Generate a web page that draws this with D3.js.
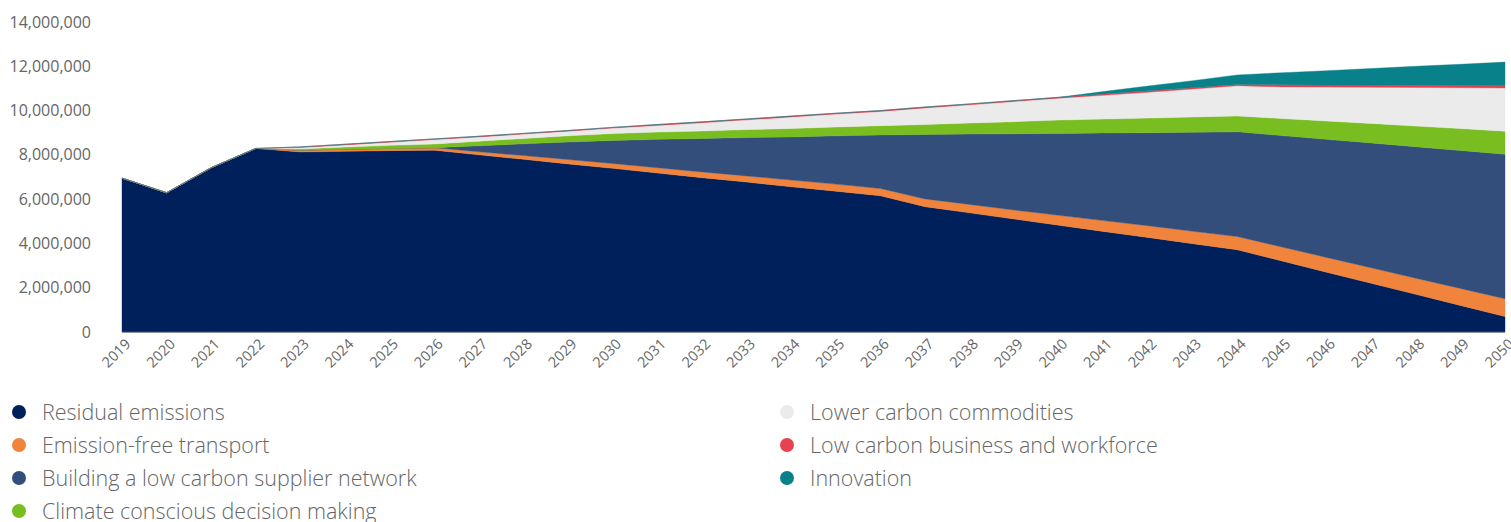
<!DOCTYPE html>
<html>
<head>
<meta charset="utf-8">
<script src="https://cdn.jsdelivr.net/npm/d3@7"></script>
<style>
  html, body { margin: 0; padding: 0; background: #fff; }
  svg { display: block; font-family: "Open Sans", sans-serif; }
</style>
</head>
<body>
<svg id="chart" width="1511" height="522"></svg>
<script>
// Emissions pathway, tonnes CO2e per year, stacked from the bottom up
const years = d3.range(2019, 2051);

const residual = [
  6950000, 6290000, 7420000, 8290000, 8130000, 8160000, 8190000, 8210000,
  8000000, 7800000, 7590000, 7390000, 7180000, 6970000, 6770000, 6560000,
  6360000, 6150000, 5660000, 5380000, 5100000, 4820000, 4540000, 4270000,
  3990000, 3710000, 3210000, 2700000, 2200000, 1700000, 1200000, 700000
];
const transport = [
  0, 0, 0, 0, 80000, 90000, 100000, 110000,
  140000, 170000, 200000, 220000, 240000, 260000, 280000, 300000,
  320000, 330000, 350000, 380000, 410000, 450000, 490000, 530000,
  560000, 600000, 630000, 670000, 700000, 730000, 770000, 800000
];
const supplier = [
  0, 0, 0, 0, 0, 0, 0, 0,
  270000, 530000, 790000, 1040000, 1280000, 1510000, 1730000, 1950000,
  2180000, 2420000, 2910000, 3180000, 3440000, 3700000, 3960000, 4200000,
  4470000, 4730000, 5030000, 5330000, 5640000, 5940000, 6230000, 6530000
];
const decisions = [
  0, 0, 0, 0, 60000, 100000, 140000, 170000,
  210000, 240000, 280000, 310000, 330000, 340000, 360000, 380000,
  400000, 420000, 450000, 500000, 550000, 600000, 630000, 660000,
  690000, 720000, 770000, 830000, 880000, 930000, 990000, 1040000
];
const commodities = [
  0, 0, 0, 0, 60000, 100000, 140000, 200000,
  190000, 200000, 210000, 250000, 300000, 370000, 440000, 520000,
  580000, 640000, 750000, 820000, 910000, 990000, 1070000, 1170000,
  1260000, 1360000, 1430000, 1530000, 1630000, 1740000, 1840000, 1950000
];
const workforce = [
  0, 0, 0, 0, 30000, 30000, 30000, 30000,
  30000, 30000, 30000, 30000, 40000, 40000, 40000, 40000,
  40000, 40000, 40000, 40000, 40000, 40000, 60000, 60000,
  60000, 60000, 100000, 100000, 100000, 100000, 100000, 100000
];
const innovation = [
  0, 0, 0, 0, 0, 0, 0, 0,
  0, 0, 0, 0, 0, 0, 0, 0,
  0, 0, 0, 0, 0, 0, 110000, 220000,
  320000, 430000, 540000, 640000, 750000, 860000, 960000, 1070000
];

const seriesNames = [
  "Residual emissions",
  "Emission-free transport",
  "Building a low carbon supplier network",
  "Climate conscious decision making",
  "Lower carbon commodities",
  "Low carbon business and workforce",
  "Innovation"
];
const seriesValues = [residual, transport, supplier, decisions, commodities, workforce, innovation];
const seriesColors = ["#00205b", "#f0843c", "#344e7b", "#78be20", "#ebebeb", "#e8414f", "#08818a"];

const yTicks = [0, 2000000, 4000000, 6000000, 8000000, 10000000, 12000000, 14000000];

// Row table for d3.stack
const keys = seriesNames;
const rows = years.map((yr, i) => {
  const r = { year: yr };
  keys.forEach((k, j) => { r[k] = seriesValues[j][i]; });
  return r;
});

const svg = d3.select("#chart");
const plotLeft = 122, plotRight = 1505, plotTop = 22, plotBottom = 332;

const x = d3.scaleLinear().domain([2019, 2050]).range([plotLeft, plotRight]);
const y = d3.scaleLinear().domain([0, 14000000]).range([plotBottom, plotTop]);

const stacked = d3.stack().keys(keys)(rows);

const area = d3.area()
  .x(d => x(d.data.year))
  .y0(d => y(d[0]))
  .y1(d => y(d[1]));

svg.append("g").selectAll("path")
  .data(stacked)
  .join("path")
  .attr("d", area)
  .attr("fill", (d, i) => seriesColors[i])
  .attr("stroke", (d, i) => seriesColors[i])
  .attr("stroke-width", 0.4);

// baseline
svg.append("line")
  .attr("x1", x(2019)).attr("x2", x(2050))
  .attr("y1", y(0)).attr("y2", y(0))
  .attr("stroke", "#4a4f66").attr("stroke-width", 1);

// Y axis labels
const yAxis = d3.axisLeft(y)
  .tickValues(yTicks)
  .tickSize(0)
  .tickPadding(0)
  .tickFormat(d3.format(",d"));
const yg = svg.append("g").attr("transform", "translate(91,0)").call(yAxis);
yg.select(".domain").remove();
yg.selectAll("text")
  .attr("fill", "#666")
  .style("font-size", "16px")
  .style("font-family", "'Open Sans', sans-serif");

// X axis labels, rotated
const xAxis = d3.axisBottom(x)
  .tickValues(years)
  .tickSize(0)
  .tickFormat(d3.format("d"));
const xg = svg.append("g").attr("transform", `translate(0,${plotBottom})`).call(xAxis);
xg.select(".domain").remove();
xg.selectAll("text")
  .attr("fill", "#666")
  .style("font-size", "14.5px")
  .style("font-family", "'Open Sans', sans-serif")
  .attr("text-anchor", "end")
  .attr("dy", 0)
  .attr("y", 0)
  .attr("transform", "translate(9,13) rotate(-45)");

// Legend in two columns
const legendCols = [[0, 1, 2, 3], [4, 5, 6]];
const colX = [19, 787];
legendCols.forEach((col, ci) => {
  col.forEach((si, ri) => {
    const g = svg.append("g").attr("transform", `translate(${colX[ci]},${412 + ri * 33})`);
    g.append("circle").attr("r", 7).attr("fill", seriesColors[si]);
    g.append("text")
      .attr("x", 23)
      .attr("dy", "0.35em")
      .attr("fill", "#666")
      .style("font-size", "21.5px")
      .style("font-weight", 300)
      .text(seriesNames[si]);
  });
});
</script>
</body>
</html>
